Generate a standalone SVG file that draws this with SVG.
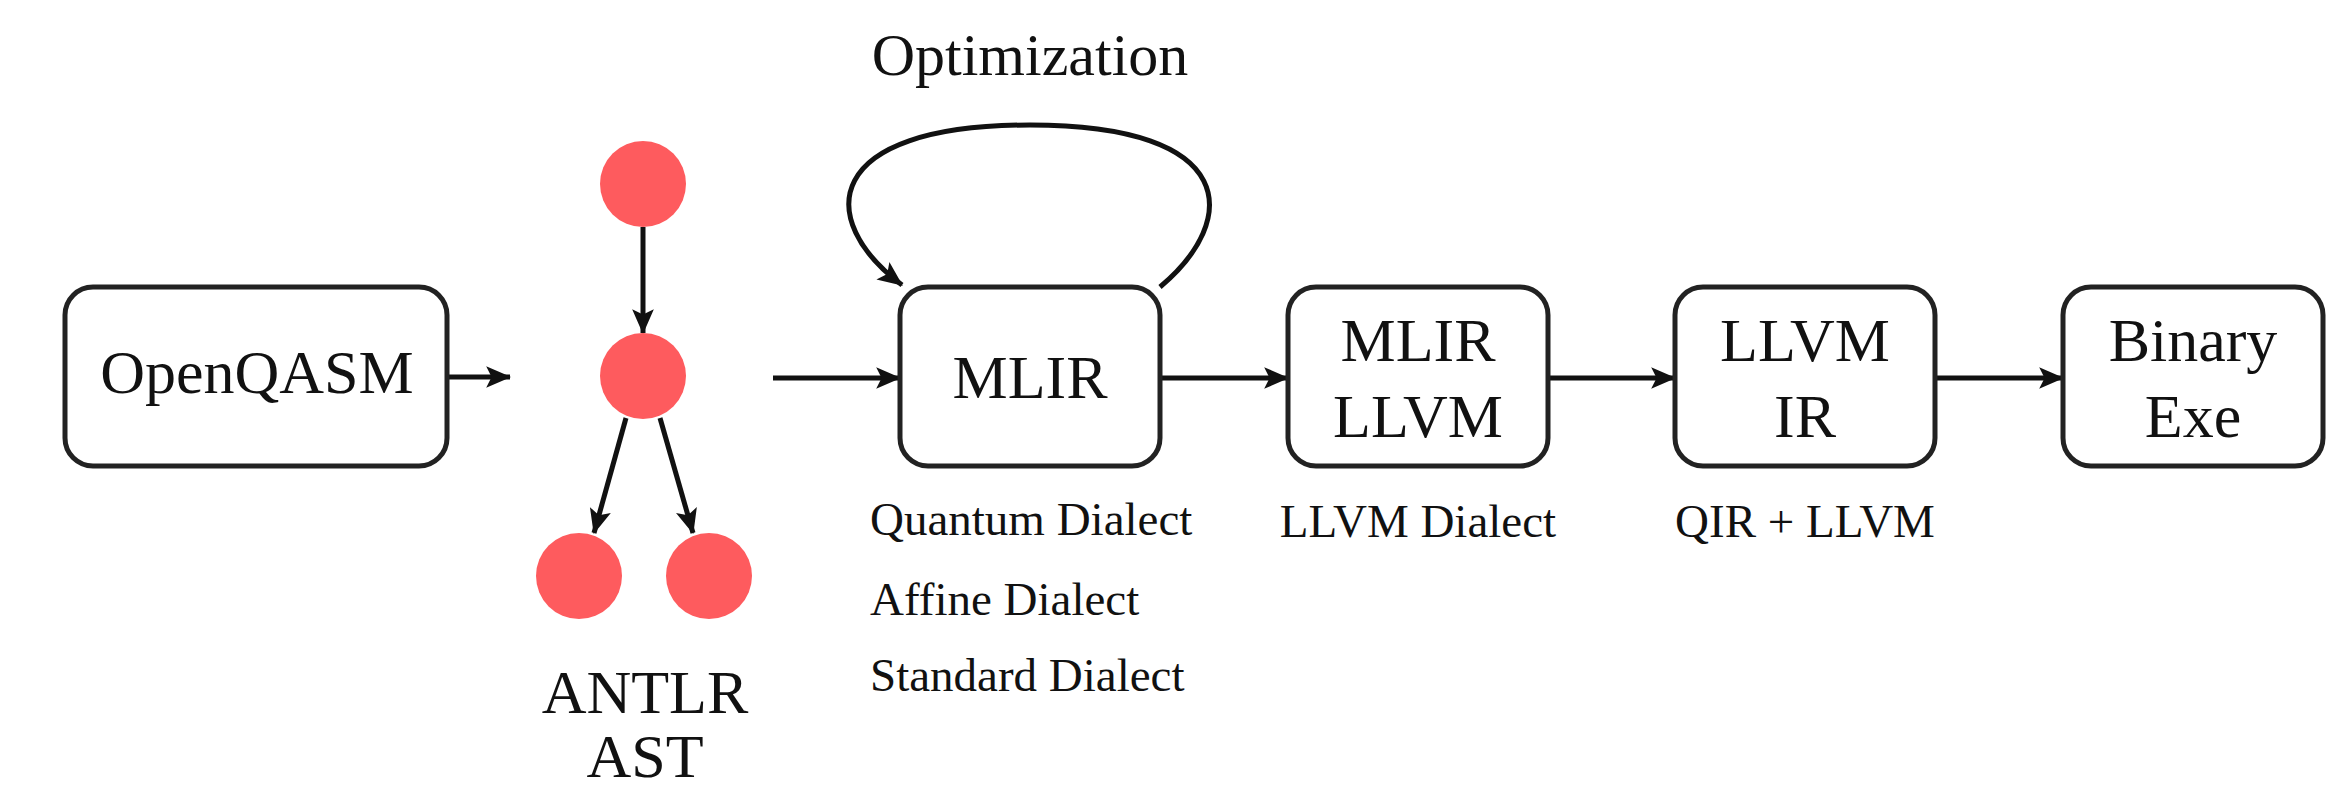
<svg xmlns="http://www.w3.org/2000/svg" width="2346" height="791" viewBox="0 0 2346 791">
  <style>
    .box { fill: #ffffff; stroke: #222222; stroke-width: 5; }
    .lbl { font-family: "Liberation Serif", "Times New Roman", serif; fill: #111111; text-anchor: middle; }
    .note { font-family: "Liberation Serif", "Times New Roman", serif; fill: #111111; font-size: 47px; text-anchor: start; }
    .big { font-size: 62px; }
    .small { font-size: 47px; }
    .dot { fill: #fe5b5e; }
    .edge { fill: none; stroke: #111111; stroke-width: 5; }
  </style>
  <defs>
    <marker id="arrow" viewBox="0 0 24 24" markerWidth="26" markerHeight="26" refX="23" refY="12" orient="auto" markerUnits="userSpaceOnUse">
      <path d="M1,2 L24,12 L1,22 L6,12 z" fill="#111111"/>
    </marker>
  </defs>

  <rect width="2346" height="791" fill="#ffffff"/>

  <!-- connectors -->
  <g id="connectors">
    <path class="edge" d="M447,377 L510,377" marker-end="url(#arrow)"/>
    <path class="edge" d="M643,227 L643,333" marker-end="url(#arrow)"/>
    <path class="edge" d="M626,418 L594,533" marker-end="url(#arrow)"/>
    <path class="edge" d="M660,418 L693,533" marker-end="url(#arrow)"/>
    <path class="edge" d="M773,378 L900,378" marker-end="url(#arrow)"/>
    <path class="edge" d="M1160,287 C1240,220 1240,125 1030,125 C820,125 815,220 902,285" marker-end="url(#arrow)"/>
    <path class="edge" d="M1160,378 L1288,378" marker-end="url(#arrow)"/>
    <path class="edge" d="M1548,378 L1675,378" marker-end="url(#arrow)"/>
    <path class="edge" d="M1935,378 L2063,378" marker-end="url(#arrow)"/>
  </g>

  <!-- source program -->
  <g id="openqasm">
    <rect class="box" x="65" y="287" width="382" height="179" rx="28"/>
    <text class="lbl big" x="257" y="393">OpenQASM</text>
  </g>

  <!-- parse tree -->
  <g id="ast">
    <circle class="dot" cx="643" cy="184" r="43"/>
    <circle class="dot" cx="643" cy="376" r="43"/>
    <circle class="dot" cx="579" cy="576" r="43"/>
    <circle class="dot" cx="709" cy="576" r="43"/>
    <text class="lbl big"><tspan x="645" y="713">ANTLR</tspan><tspan x="645" dy="64">AST</tspan></text>
  </g>

  <g id="optimization">
    <text class="lbl" x="1030" y="75" font-size="60">Optimization</text>
  </g>

  <g id="mlir">
    <rect class="box" x="900" y="287" width="260" height="179" rx="28"/>
    <text class="lbl big" x="1030" y="398">MLIR</text>
    <text class="note" x="870" y="535">Quantum Dialect</text>
    <text class="note" x="870" y="615">Affine Dialect</text>
    <text class="note" x="870" y="691">Standard Dialect</text>
  </g>

  <g id="mlir-llvm">
    <rect class="box" x="1288" y="287" width="260" height="179" rx="28"/>
    <text class="lbl big"><tspan x="1418" y="361">MLIR</tspan><tspan x="1418" dy="76">LLVM</tspan></text>
    <text class="lbl small" x="1418" y="537">LLVM Dialect</text>
  </g>

  <g id="llvm-ir">
    <rect class="box" x="1675" y="287" width="260" height="179" rx="28"/>
    <text class="lbl big"><tspan x="1805" y="361">LLVM</tspan><tspan x="1805" dy="76">IR</tspan></text>
    <text class="lbl small" x="1805" y="537">QIR + LLVM</text>
  </g>

  <g id="binary">
    <rect class="box" x="2063" y="287" width="260" height="179" rx="28"/>
    <text class="lbl big"><tspan x="2193" y="361">Binary</tspan><tspan x="2193" dy="76">Exe</tspan></text>
  </g>
</svg>
